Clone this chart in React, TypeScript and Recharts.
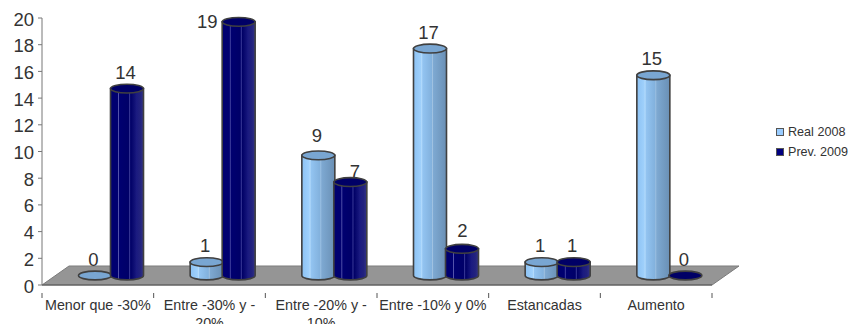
import React from 'react';
import { BarChart, Bar, XAxis, YAxis, Legend, usePlotArea } from 'recharts';

const categories = ['Menor que -30%', 'Entre -30% y -20%', 'Entre -20% y -10%', 'Entre -10% y 0%', 'Estancadas', 'Aumento'];
const real2008 = [0, 1, 9, 17, 1, 15];
const prev2009 = [14, 19, 7, 2, 1, 0];
const yTicks = [0, 2, 4, 6, 8, 10, 12, 14, 16, 18, 20];
const data = categories.map((name, i) => ({ name, real: real2008[i], prev: prev2009[i] }));

const FONT = '"Liberation Sans", Arial, sans-serif';
const DX = 13.5, DY = -9.5, RY = 4.4;
const INK = '#333333';
// hand placement of a few value labels, as in the source chart
const realNudge: Record<number, [number, number]> = { 2: [0, -3] };
const prevNudge: Record<number, [number, number]> = { 1: [-30, 16], 2: [6, 6], 3: [2, -1.5] };

const Floor = ({ overlay }: { overlay?: boolean }) => {
  const p = usePlotArea();
  if (!p) return null;
  const b = p.y + p.height, l = p.x, r = p.x + p.width;
  const pts = `${l},${b} ${r},${b} ${r + 27},${b - 19} ${l + 27},${b - 19}`;
  return overlay
    ? <polygon points={`${l + 27},${b - 19} ${r + 27},${b - 19} ${r + 5},${b - 4} ${l + 5},${b - 4}`} fill="#969696" opacity={0.1} />
    : <g><polygon points={pts} fill="#969696" stroke="#7a7a7a" strokeWidth={1} /><line x1={l} x2={r} y1={b} y2={b} stroke="#555" strokeWidth={1.2} /></g>;
};

const Cylinder = (props: any) => {
  const { x, y, width, height, index, value, grad, topFill, nudge } = props;
  const v = Array.isArray(value) ? value[1] - value[0] : value;
  const cx = x + width / 2 + DX;
  const rx = width / 2;
  const top = y + DY;
  const h = height;
  const n = (nudge && nudge[index]) || [0, 0];
  return (
    <g>
      <text x={cx + n[0] - 1.5} y={top - 16.5 + n[1]} textAnchor="middle" dominantBaseline="central" fontFamily={FONT} fontSize={18.5} fill={INK}>{v}</text>
      {h > 0 && (
        <path
          d={`M${cx - rx},${top} L${cx - rx},${top + h} A${rx},${RY} 0 0 0 ${cx + rx},${top + h} L${cx + rx},${top} Z`}
          fill={`url(#${grad})`} stroke="#404040" strokeWidth={1.6}
        />
      )}
      <ellipse cx={cx} cy={top} rx={rx} ry={RY} fill={topFill} stroke="#404040" strokeWidth={1.6} />
    </g>
  );
};

const XTick = (props: any) => {
  const { x, y, payload, index } = props;
  const band = 670 / categories.length;
  const left = x - band / 2;
  const m = String(payload.value).match(/^(.* y -)(\d+%)$/);
  const lines = m ? [m[1], m[2]] : [payload.value];
  return (
    <g>
      <line x1={left} x2={left} y1={y} y2={y + 5} stroke="#555" />
      {index === categories.length - 1 && <line x1={left + band} x2={left + band} y1={y} y2={y + 5} stroke="#555" />}
      <text textAnchor="middle" fontFamily={FONT} fontSize={14.3} fill={INK}>
        {lines.map((t: string, i: number) => <tspan key={i} x={x} y={y + 17 + i * 17.5}>{t}</tspan>)}
      </text>
    </g>
  );
};

const LegendBox = ({ payload }: any) => (
  <div style={{ fontFamily: FONT, fontSize: 12.6, color: INK, lineHeight: '20px' }}>
    {[...(payload || [])].sort((a: any) => (a.dataKey === 'real' ? -1 : 1)).map((e: any) => (
      <div key={e.value} style={{ display: 'flex', alignItems: 'center', whiteSpace: 'nowrap' }}>
        <span style={{ width: 6, height: 6, background: e.color, border: '1.5px solid #555', marginRight: 4, display: 'inline-block', flexShrink: 0 }} />
        {e.value}
      </div>
    ))}
  </div>
);

const Stops = ({ c }: { c: [number, string][] }) => <>{c.map(([o, col], i) => <stop key={i} offset={`${o}%`} stopColor={col} />)}</>;

export default function App() {
  return (
    <div style={{ position: 'absolute', left: 0, top: 0, width: 849, height: 324, background: '#fff', overflow: 'hidden' }}>
      <BarChart width={849} height={324} data={data} barSize={33} barGap={-1} margin={{ top: 18, right: 64, bottom: 9, left: 12 }}>
        <defs>
          <linearGradient id="gLight" x1="0" x2="1" y1="0" y2="0">
            <Stops c={[[0, '#8cc2f4'], [22, '#9fd0fb'], [25, '#b5dcfc'], [28, '#93c4f1'], [55, '#82b1dd'], [58, '#a4c4e2'], [60, '#7ea9d2'], [85, '#7199c0'], [100, '#6a8fb4']]} />
          </linearGradient>
          <linearGradient id="gDark" x1="0" x2="1" y1="0" y2="0">
            <Stops c={[[0, '#000070'], [22, '#000070'], [24, '#5a5ab0'], [27, '#000070'], [55, '#000068'], [58, '#3a3a98'], [61, '#000066'], [75, '#14147a'], [78, '#1a1a80'], [90, '#22227e'], [100, '#333385']]} />
          </linearGradient>
        </defs>
        <Floor />
        <XAxis dataKey="name" interval={0} height={30} tick={<XTick />} tickLine={false} axisLine={false} />
        <YAxis domain={[0, 20]} ticks={yTicks} width={30} interval={0} tickSize={4} tickMargin={4} tick={{ fontFamily: FONT, fontSize: 18.5, fill: INK, dy: 1 }} tickLine={{ stroke: '#777' }} axisLine={{ stroke: '#777' }} />
        <Legend layout="vertical" align="right" verticalAlign="top" content={<LegendBox />} wrapperStyle={{ position: 'absolute', left: 776, top: 122, width: 73 }} />
        <Bar dataKey="real" name="Real 2008" fill="#99ccff" isAnimationActive={false} shape={(p: any) => <Cylinder {...p} grad="gLight" topFill="#79a6d2" nudge={realNudge} />} />
        <Bar dataKey="prev" name="Prev. 2009" fill="#000080" isAnimationActive={false} shape={(p: any) => <Cylinder {...p} grad="gDark" topFill="#000066" nudge={prevNudge} />} />
        <Floor overlay />
      </BarChart>
    </div>
  );
}
